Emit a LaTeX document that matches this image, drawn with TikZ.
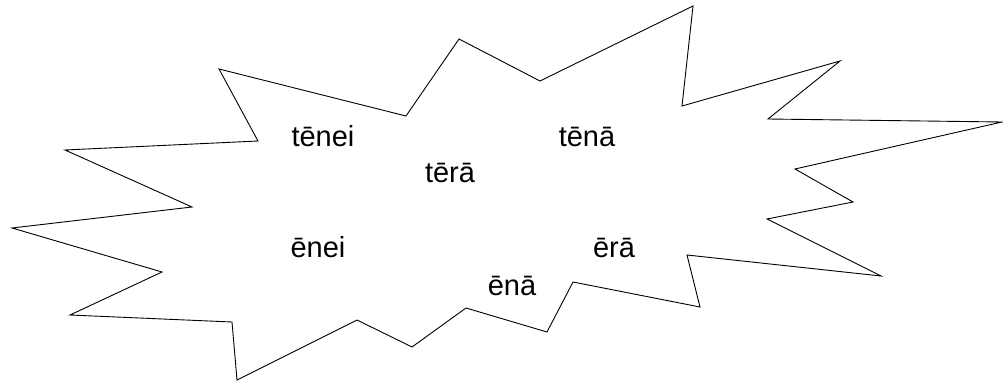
\documentclass[tikz,border=0pt]{standalone}
\usepackage{fontspec}
\setmainfont{Liberation Sans}
\begin{document}
\begin{tikzpicture}[x=1pt,y=-1pt,
  burst/.style={draw=black,line width=0.9pt,line join=miter,fill=white},
  word/.style={font=\fontsize{29}{34}\selectfont,inner sep=0pt,anchor=center}]
\useasboundingbox (0,0) rectangle (1003,385);
\draw[burst] (219,69) -- (258,141) -- (65,150) -- (192,207) -- (12,228) -- (162,272)
 -- (70,315) -- (232,322) -- (237,380) -- (357,320) -- (412,347) -- (466,308)
 -- (547,332) -- (573,282) -- (700,307) -- (687,255) -- (881,276) -- (767,219)
 -- (853,202) -- (795,169) -- (1002,122) -- (768,119) -- (840,61) -- (682,106)
 -- (693,6) -- (540,81) -- (459,39) -- (406,116) -- cycle;
\node[word] (tenei) at (323,136) {tēnei};
\node[word] (tera) at (450,173) {tērā};
\node[word] (tena) at (587,137) {tēnā};
\node[word] (enei) at (318,247) {ēnei};
\node[word] (ena) at (512,286) {ēnā};
\node[word] (era) at (614,248) {ērā};
\end{tikzpicture}
\end{document}
